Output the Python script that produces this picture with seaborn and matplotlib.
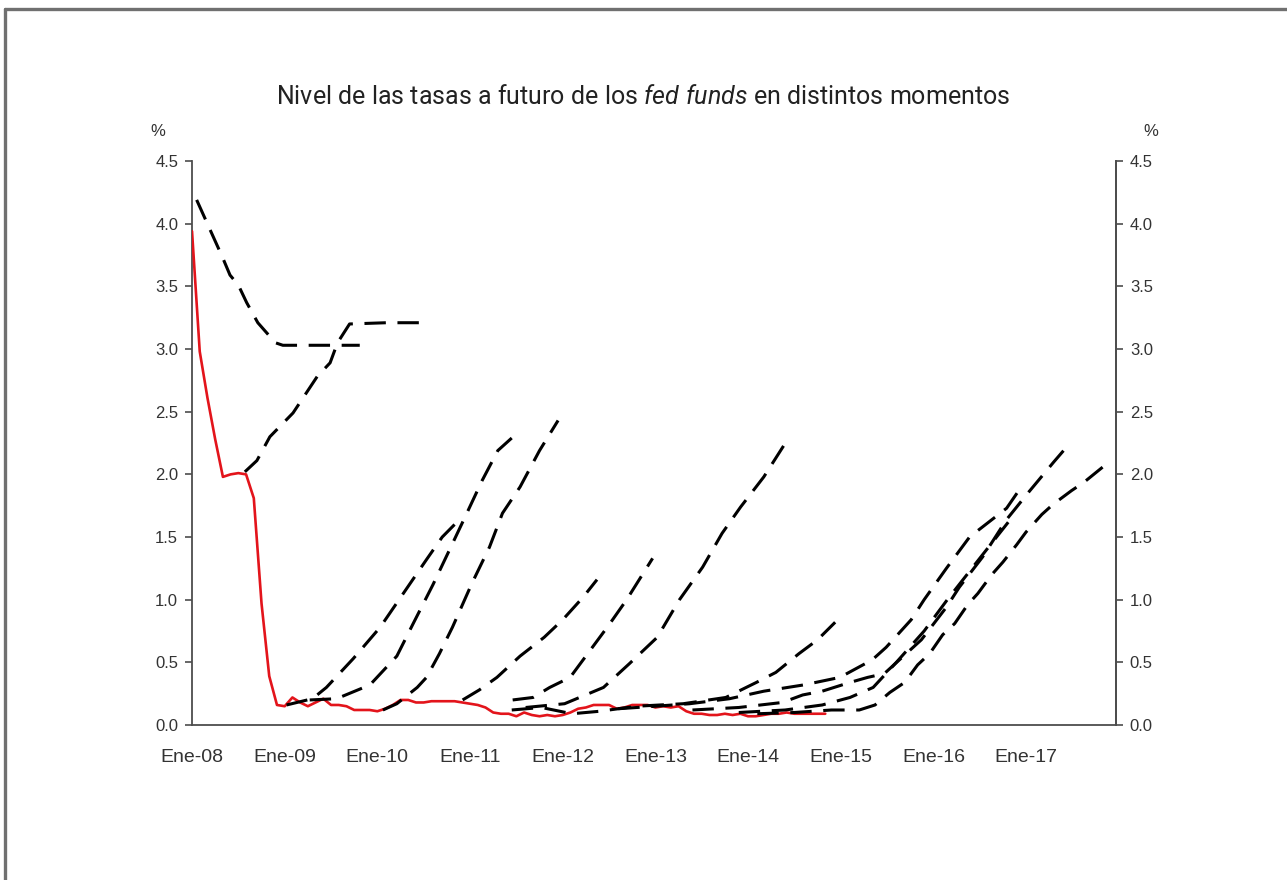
import numpy as np
import pandas as pd
import matplotlib.pyplot as plt
import seaborn as sns
from matplotlib.lines import Line2D

# Effective fed funds rate, monthly from Jan-2008 to Nov-2014 (%)
fed_first_year = 2008
fed_funds = [3.94, 2.98, 2.61, 2.28, 1.98, 2.00, 2.01, 2.00, 1.81, 0.97, 0.39, 0.16,
             0.15, 0.22, 0.18, 0.15, 0.18, 0.21, 0.16, 0.16, 0.15, 0.12, 0.12, 0.12,
             0.11, 0.13, 0.16, 0.20, 0.20, 0.18, 0.18, 0.19, 0.19, 0.19, 0.19, 0.18,
             0.17, 0.16, 0.14, 0.10, 0.09, 0.09, 0.07, 0.10, 0.08, 0.07, 0.08, 0.07,
             0.08, 0.10, 0.13, 0.14, 0.16, 0.16, 0.16, 0.13, 0.14, 0.16, 0.16, 0.16,
             0.14, 0.15, 0.14, 0.15, 0.11, 0.09, 0.09, 0.08, 0.08, 0.09, 0.08, 0.09,
             0.07, 0.07, 0.08, 0.09, 0.09, 0.10, 0.09, 0.09, 0.09, 0.09, 0.09]

# Fed funds futures curves taken at different moments (x in years, y in %)
fut_a_x = [2008.05, 2008.33, 2008.41, 2008.50, 2008.59, 2008.71, 2008.90, 2008.98, 2009.40, 2009.81]
fut_a_y = [4.19, 3.73, 3.59, 3.51, 3.37, 3.21, 3.05, 3.03, 3.03, 3.03]
fut_b_x = [2008.57, 2008.70, 2008.84, 2009.09, 2009.35, 2009.49, 2009.57, 2009.70, 2010.10, 2010.49]
fut_b_y = [2.02, 2.11, 2.30, 2.49, 2.78, 2.89, 3.05, 3.20, 3.21, 3.21]
fut_c_x = [2009.02, 2009.30, 2009.45, 2009.74, 2010.03, 2010.28, 2010.53, 2010.70, 2010.86]
fut_c_y = [0.16, 0.21, 0.30, 0.53, 0.78, 1.05, 1.32, 1.50, 1.62]
fut_d_x = [2009.27, 2009.56, 2009.92, 2010.21, 2010.38, 2010.60, 2010.78, 2010.94, 2011.13, 2011.30, 2011.45]
fut_d_y = [0.20, 0.21, 0.32, 0.55, 0.80, 1.12, 1.40, 1.65, 1.95, 2.19, 2.29]
fut_e_x = [2010.06, 2010.21, 2010.43, 2010.53, 2010.67, 2010.81, 2011.02, 2011.21, 2011.35, 2011.54, 2011.75, 2011.95]
fut_e_y = [0.12, 0.17, 0.30, 0.38, 0.57, 0.78, 1.13, 1.42, 1.69, 1.90, 2.19, 2.43]
fut_f_x = [2010.92, 2011.10, 2011.29, 2011.54, 2011.80, 2012.00, 2012.22, 2012.37]
fut_f_y = [0.20, 0.28, 0.38, 0.55, 0.70, 0.84, 1.02, 1.16]
fut_g_x = [2011.46, 2011.68, 2011.86, 2012.08, 2012.30, 2012.50, 2012.69, 2012.97]
fut_g_y = [0.20, 0.22, 0.30, 0.38, 0.60, 0.80, 1.00, 1.33]
fut_h_x = [2011.60, 2012.02, 2012.44, 2012.72, 2013.02, 2013.26, 2013.51, 2013.72, 2013.92, 2014.17, 2014.42]
fut_h_y = [0.14, 0.17, 0.30, 0.49, 0.70, 1.00, 1.26, 1.53, 1.74, 1.98, 2.27]
fut_i_x = [2011.45, 2011.77, 2012.10, 2012.40, 2012.80, 2013.30, 2013.76, 2014.09, 2014.30, 2014.55, 2014.75, 2014.94]
fut_i_y = [0.12, 0.14, 0.09, 0.11, 0.15, 0.17, 0.22, 0.34, 0.42, 0.57, 0.68, 0.82]
fut_j_x = [2012.60, 2013.00, 2013.37, 2013.80, 2014.17, 2014.60, 2014.99, 2015.34, 2015.49, 2015.76, 2015.90,
           2016.14, 2016.39, 2016.79, 2016.93]
fut_j_y = [0.13, 0.15, 0.17, 0.21, 0.27, 0.32, 0.38, 0.52, 0.62, 0.84, 1.00, 1.25, 1.50, 1.73, 1.88]
fut_k_x = [2013.40, 2013.90, 2014.37, 2014.59, 2014.80, 2015.10, 2015.29, 2015.47, 2015.87, 2016.14, 2016.28,
           2016.53, 2016.79, 2017.03, 2017.30, 2017.44]
fut_k_y = [0.12, 0.14, 0.18, 0.24, 0.27, 0.34, 0.38, 0.41, 0.68, 0.94, 1.10, 1.34, 1.64, 1.86, 2.10, 2.22]
fut_l_x = [2013.90, 2014.40, 2014.80, 2015.10, 2015.35, 2015.60, 2015.90, 2016.15, 2016.50, 2016.82]
fut_l_y = [0.10, 0.12, 0.16, 0.22, 0.30, 0.50, 0.75, 1.00, 1.33, 1.63]
fut_m_x = [2014.10, 2014.50, 2014.90, 2015.20, 2015.37, 2015.53, 2015.69, 2015.83, 2015.96, 2016.10, 2016.23,
           2016.37, 2016.48, 2016.63, 2016.75, 2016.90, 2017.00, 2017.17, 2017.29, 2017.49, 2017.63, 2017.83]
fut_m_y = [0.09, 0.10, 0.12, 0.12, 0.16, 0.26, 0.34, 0.48, 0.57, 0.72, 0.81, 0.96, 1.05, 1.20, 1.30, 1.44,
           1.54, 1.68, 1.76, 1.87, 1.94, 2.06]

futures = [(fut_a_x, fut_a_y), (fut_b_x, fut_b_y), (fut_c_x, fut_c_y), (fut_d_x, fut_d_y),
           (fut_e_x, fut_e_y), (fut_f_x, fut_f_y), (fut_g_x, fut_g_y), (fut_h_x, fut_h_y),
           (fut_i_x, fut_i_y), (fut_j_x, fut_j_y), (fut_k_x, fut_k_y), (fut_l_x, fut_l_y),
           (fut_m_x, fut_m_y)]

year_ticks = list(range(2008, 2018))
year_labels = ["Ene-08", "Ene-09", "Ene-10", "Ene-11", "Ene-12", "Ene-13", "Ene-14",
               "Ene-15", "Ene-16", "Ene-17"]
y_ticks = [0.0, 0.5, 1.0, 1.5, 2.0, 2.5, 3.0, 3.5, 4.0, 4.5]

title = r"Nivel de las tasas a futuro de los $\mathit{fed\ funds}$ en distintos momentos"

sns.set_style("white")
plt.rcParams["font.family"] = ["Liberation Sans", "DejaVu Sans"]
plt.rcParams["mathtext.fontset"] = "custom"
plt.rcParams["mathtext.rm"] = "Roboto"
plt.rcParams["mathtext.it"] = "Roboto:italic"

fig = plt.figure(figsize=(12.87, 8.8), dpi=100)
ax = fig.add_axes([0.1492, 0.1761, 0.7179, 0.6409])

# red line: actual rate
fed_df = pd.DataFrame({
    "t": [fed_first_year + i / 12 for i in range(len(fed_funds))],
    "rate": fed_funds,
})
sns.lineplot(data=fed_df, x="t", y="rate", ax=ax, color="#e3141b", linewidth=1.9, zorder=3)

# dashed lines: futures
for fx, fy in futures:
    d = pd.DataFrame({"t": fx, "rate": fy})
    sns.lineplot(data=d, x="t", y="rate", ax=ax, color="black", linewidth=2.2,
                 zorder=4).lines[-1].set_dashes((7, 3.8))

ax.set_xlim(2008, 2017.97)
ax.set_ylim(0, 4.5)
ax.set_xlabel("")
ax.set_ylabel("")
ax.set_xticks(year_ticks)
ax.set_xticklabels(year_labels)
ax.set_yticks(y_ticks)
ax.set_yticklabels([f"{v:.1f}" for v in y_ticks])

ax.spines["top"].set_visible(False)
for s in ["left", "bottom", "right"]:
    ax.spines[s].set_color("#4d4d4d")
    ax.spines[s].set_linewidth(1.3)

ax.tick_params(axis="both", which="both", direction="out", length=5, width=1.2,
               color="#4d4d4d", labelcolor="#333333", labelsize=12, pad=5)
ax.tick_params(axis="x", labelsize=14, pad=12)

ax2 = ax.twinx()
ax2.set_ylim(0, 4.5)
ax2.set_yticks(y_ticks)
ax2.set_yticklabels([f"{v:.1f}" for v in y_ticks])
for s in ["top", "left", "bottom"]:
    ax2.spines[s].set_visible(False)
ax2.spines["right"].set_color("#4d4d4d")
ax2.spines["right"].set_linewidth(1.3)
ax2.tick_params(axis="y", direction="out", length=5, width=1.2, color="#4d4d4d",
                labelcolor="#333333", labelsize=12, pad=5)

ax.text(-0.045, 1.045, "%", transform=ax.transAxes, fontsize=12, color="#333333", ha="left")
ax.text(1.03, 1.045, "%", transform=ax.transAxes, fontsize=12, color="#333333", ha="left")

fig.text(0.5, 0.890, title, ha="center", va="center", fontsize=18, color="#222222",
         family="Roboto")

# outer frame (only top and left edges visible)
fig.add_artist(Line2D([5 / 1287, 1.0], [1 - 9 / 880, 1 - 9 / 880], transform=fig.transFigure,
                      color="#707070", linewidth=2.4))
fig.add_artist(Line2D([5 / 1287, 5 / 1287], [0.0, 1 - 9 / 880], transform=fig.transFigure,
                      color="#707070", linewidth=2.4))

fig.savefig("out.png", dpi=100)
